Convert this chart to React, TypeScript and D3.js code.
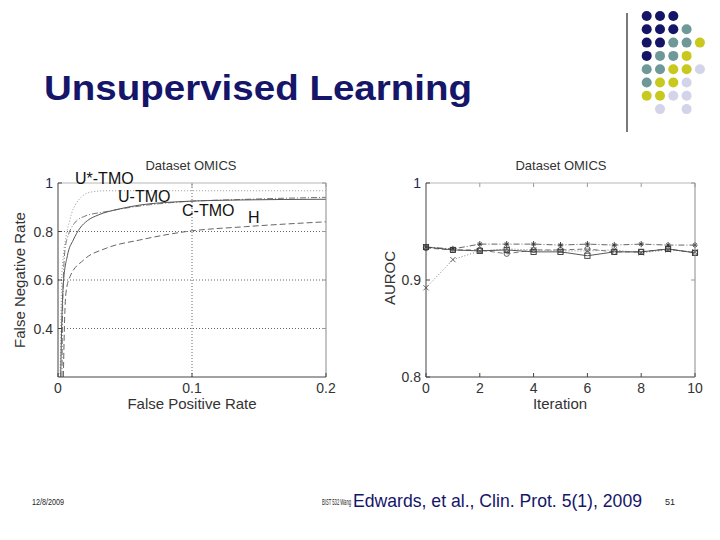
import * as d3 from "d3";

// ROC-like curves (left panel): false positive rate vs "false negative rate"
const uStarFpr = [0.0015, 0.002, 0.0027, 0.004, 0.006, 0.0085, 0.0102, 0.013, 0.017, 0.024, 0.035, 0.06, 0.1, 0.2];
const uStarVal = [0.2, 0.35, 0.6, 0.7, 0.78, 0.84, 0.875, 0.91, 0.94, 0.962, 0.968, 0.968, 0.968, 0.968];
const uTmoFpr = [0.002, 0.0027, 0.004, 0.007, 0.0114, 0.0164, 0.022, 0.03, 0.045, 0.061, 0.091, 0.136, 0.2];
const uTmoVal = [0.2, 0.4, 0.586, 0.7, 0.765, 0.814, 0.845, 0.868, 0.892, 0.909, 0.923, 0.93, 0.933];
const cTmoFpr = [0.003, 0.0035, 0.0052, 0.008, 0.0114, 0.019, 0.036, 0.061, 0.091, 0.136, 0.2];
const cTmoVal = [0.2, 0.5, 0.724, 0.79, 0.827, 0.861, 0.882, 0.905, 0.922, 0.932, 0.941];
const hFpr = [0.004, 0.005, 0.006, 0.009, 0.019, 0.036, 0.061, 0.096, 0.14, 0.2];
const hVal = [0.2, 0.45, 0.55, 0.614, 0.682, 0.731, 0.765, 0.8, 0.82, 0.84];

// AUROC per iteration (right panel)
const iterations = [0, 1, 2, 3, 4, 5, 6, 7, 8, 9, 10];
const aurocCross = [0.892, 0.921, 0.93, 0.932, 0.931, 0.93, 0.93, 0.931, 0.928, 0.931, 0.929];
const aurocStar = [0.934, 0.932, 0.937, 0.937, 0.937, 0.936, 0.937, 0.936, 0.937, 0.936, 0.936];
const aurocCircle = [0.933, 0.931, 0.931, 0.927, 0.931, 0.931, 0.932, 0.929, 0.929, 0.932, 0.928];
const aurocSquare = [0.934, 0.931, 0.93, 0.931, 0.929, 0.929, 0.925, 0.929, 0.929, 0.932, 0.928];

const leftXTicks = [0, 0.1, 0.2];
const leftYTicks = [0.4, 0.6, 0.8, 1];
const rightXTicks = [0, 2, 4, 6, 8, 10];
const rightYTicks = [0.8, 0.9, 1];

// decorative dot grid in the top-right corner
const dotRows = ["NNN", "NNNT", "NNTTY", "NTTY", "TTYYL", "TYYL", "YYLL", ".L.L"];
const dotColors: Record<string, string> = { N: "#151568", T: "#6f9898", Y: "#c9c81e", L: "#d3d4ea" };

const font = "'Liberation Sans', Arial, sans-serif";
const navy = "#15156a";

const xL = d3.scaleLinear().domain([0, 0.2]).range([58, 326]);
const yL = d3.scaleLinear().domain([0.2, 1]).range([377, 183]);
const xR = d3.scaleLinear().domain([0, 10]).range([426, 695]);
const yR = d3.scaleLinear().domain([0.8, 1]).range([377, 183]);

const leftLine = d3
  .line<[number, number]>()
  .x((d) => xL(d[0]))
  .y((d) => yL(d[1]))
  .curve(d3.curveMonotoneX);

const rightLine = d3
  .line<number>()
  .x((_, i) => xR(iterations[i]))
  .y((d) => yR(d));

const zip = (a: number[], b: number[]) => a.map((v, i) => [v, b[i]] as [number, number]);

function Frame({ x, y, xTicks, yTicks, fmtY }: any) {
  const [x0, x1] = x.range();
  const [y0, y1] = y.range();
  return (
    <g>
      <line x1={x0} x2={x1} y1={y1} y2={y1} stroke="#cfcfcf" strokeWidth={1.5} />
      <line x1={x1} x2={x1} y1={y0} y2={y1} stroke="#8a8a8a" />
      <line x1={x0} x2={x1} y1={y0} y2={y0} stroke="#444" />
      <line x1={x0} x2={x0} y1={y0} y2={y1} stroke="#444" />
      {xTicks.map((t: number) => (
        <g key={"x" + t}>
          <line x1={x(t)} x2={x(t)} y1={y0} y2={y0 - 4} stroke="#444" />
          <line x1={x(t)} x2={x(t)} y1={y1} y2={y1 + 4} stroke="#999" />
          <text x={x(t)} y={y0 + 16} textAnchor="middle" fontSize={14} fill="#333" fontFamily={font}>
            {t}
          </text>
        </g>
      ))}
      {yTicks.map((t: number) => (
        <g key={"y" + t}>
          <line x1={x0} x2={x0 + 4} y1={y(t)} y2={y(t)} stroke="#444" />
          <line x1={x1} x2={x1 - 4} y1={y(t)} y2={y(t)} stroke="#999" />
          <text x={x0 - 5} y={y(t) + 5} textAnchor="end" fontSize={14} fill={t === 1 ? "#1c2a50" : "#333"} fontFamily={font}>
            {fmtY(t)}
          </text>
        </g>
      ))}
    </g>
  );
}

function Marker({ kind, cx, cy }: { kind: string; cx: number; cy: number }) {
  const s = 2.6;
  const st = { stroke: "#333", strokeWidth: 0.9, fill: "none" };
  if (kind === "x")
    return <path d={`M${cx - s},${cy - s}L${cx + s},${cy + s}M${cx - s},${cy + s}L${cx + s},${cy - s}`} {...st} stroke="#555" />;
  if (kind === "*")
    return (
      <path
        d={`M${cx - s},${cy}L${cx + s},${cy}M${cx},${cy - s - 0.5}L${cx},${cy + s + 0.5}M${cx - s * 0.7},${cy - s * 0.7}L${cx + s * 0.7},${cy + s * 0.7}M${cx - s * 0.7},${cy + s * 0.7}L${cx + s * 0.7},${cy - s * 0.7}`}
        {...st}
      />
    );
  if (kind === "o") return <circle cx={cx} cy={cy} r={s} {...st} stroke="#555" />;
  return <rect x={cx - s} y={cy - s} width={2 * s} height={2 * s} {...st} />;
}

export default function App() {
  const rightSeries = [
    { vals: aurocCross, dash: "1,2", mark: "x", color: "#777" },
    { vals: aurocStar, dash: "6,2,1,2", mark: "*", color: "#555" },
    { vals: aurocCircle, dash: "5,3", mark: "o", color: "#666" },
    { vals: aurocSquare, dash: "", mark: "s", color: "#444" },
  ];
  return (
    <svg
      width={720}
      height={540}
      viewBox="0 0 720 540"
      style={{ position: "absolute", left: 0, top: 0, background: "#fff" }}
    >
      <rect width={720} height={540} fill="#fff" />

      {/* slide decorations */}
      <line x1={627} x2={627} y1={13} y2={132} stroke="#222" strokeWidth={1.2} />
      {dotRows.map((row, r) =>
        row.split("").map((c, k) =>
          c === "." ? null : (
            <circle key={r + "-" + k} cx={646.7 + k * 13.3} cy={16 + r * 13.3} r={5} fill={dotColors[c]} />
          )
        )
      )}
      <text x={44} y={100} fontSize={35} fontWeight="bold" fill={navy} fontFamily={font} textLength={428} lengthAdjust="spacingAndGlyphs">
        Unsupervised Learning
      </text>

      {/* left panel */}
      <text x={191} y={170} textAnchor="middle" fontSize={13} fill="#333" fontFamily={font}>
        Dataset OMICS
      </text>
      {[0.4, 0.6, 0.8].map((t) => (
        <line key={t} x1={xL(0)} x2={xL(0.2)} y1={yL(t)} y2={yL(t)} stroke="#666" strokeDasharray="1,2" />
      ))}
      <line x1={xL(0.1)} x2={xL(0.1)} y1={yL(0.2)} y2={yL(1)} stroke="#666" strokeDasharray="1,2" />
      <path d={leftLine(zip(uStarFpr, uStarVal)) || ""} fill="none" stroke="#999" strokeDasharray="1,2" strokeWidth={1} />
      <path d={leftLine(zip(cTmoFpr, cTmoVal)) || ""} fill="none" stroke="#777" strokeDasharray="6,2,1,2" strokeWidth={1} />
      <path d={leftLine(zip(uTmoFpr, uTmoVal)) || ""} fill="none" stroke="#555" strokeWidth={1} />
      <path d={leftLine(zip(hFpr, hVal)) || ""} fill="none" stroke="#666" strokeDasharray="6,3" strokeWidth={1} />
      <Frame x={xL} y={yL} xTicks={leftXTicks} yTicks={leftYTicks} fmtY={(t: number) => (t === 1 ? "1" : t.toFixed(1))} />
      <text x={192} y={409} textAnchor="middle" fontSize={15} fill="#333" fontFamily={font}>
        False Positive Rate
      </text>
      <text transform="translate(25,280) rotate(-90)" textAnchor="middle" fontSize={15} fill="#333" fontFamily={font}>
        False Negative Rate
      </text>
      <g fontSize={16} fill="#111" fontFamily={font}>
        <text x={75} y={184}>U*-TMO</text>
        <text x={118} y={202}>U-TMO</text>
        <text x={182} y={216}>C-TMO</text>
        <text x={248} y={223}>H</text>
      </g>

      {/* right panel */}
      <text x={561} y={170} textAnchor="middle" fontSize={13} fill="#333" fontFamily={font}>
        Dataset OMICS
      </text>
      {rightSeries.map((s, i) => (
        <g key={i}>
          <path d={rightLine(s.vals) || ""} fill="none" stroke={s.color} strokeWidth={0.9} strokeDasharray={s.dash} />
          {s.vals.map((v, j) => (
            <Marker key={j} kind={s.mark} cx={xR(iterations[j])} cy={yR(v)} />
          ))}
        </g>
      ))}
      <Frame x={xR} y={yR} xTicks={rightXTicks} yTicks={rightYTicks} fmtY={(t: number) => (t === 1 ? "1" : t.toFixed(1))} />
      <text x={560} y={409} textAnchor="middle" fontSize={15} fill="#333" fontFamily={font}>
        Iteration
      </text>
      <text transform="translate(395,278) rotate(-90)" textAnchor="middle" fontSize={15} fill="#333" fontFamily={font}>
        AUROC
      </text>

      {/* footer */}
      <text x={32} y={505} fontSize={9} fill="#222" fontFamily={font} textLength={32} lengthAdjust="spacingAndGlyphs">
        12/8/2009
      </text>
      <text x={322} y={505} fontSize={9} fill="#222" fontFamily={font} textLength={29} lengthAdjust="spacingAndGlyphs">
        BIST 532 Wang
      </text>
      <text x={353} y={507} fontSize={19} fill={navy} fontFamily={font} textLength={289} lengthAdjust="spacingAndGlyphs">
        Edwards, et al., Clin. Prot. 5(1), 2009
      </text>
      <text x={665} y={505} fontSize={9} fill="#222" fontFamily={font}>
        51
      </text>
    </svg>
  );
}
